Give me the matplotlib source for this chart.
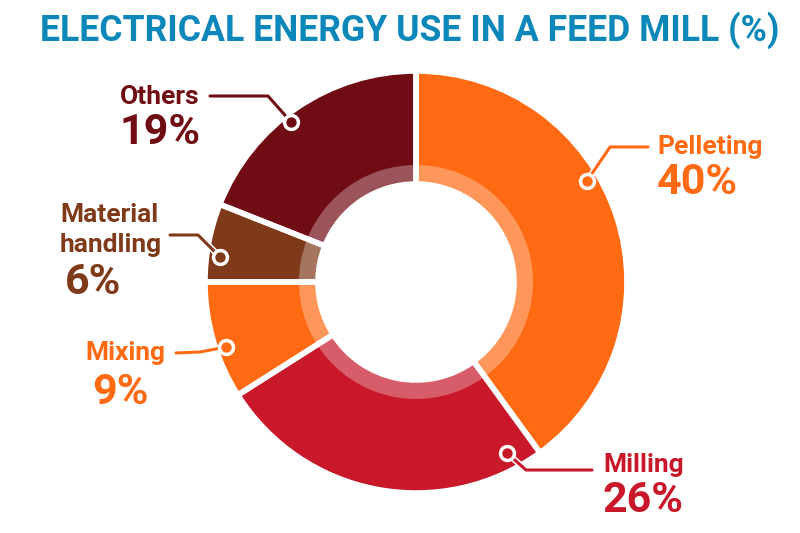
import matplotlib
matplotlib.use("Agg")
import matplotlib.pyplot as plt
import matplotlib.patheffects as pe
import numpy as np
from matplotlib.colors import to_rgb

categories = ["Pelleting", "Milling", "Mixing", "Material\nhandling", "Others"]
values = [40, 26, 9, 6, 19]
colors = ["#FF6A13", "#C8182A", "#FF6A13", "#7F3A1A", "#700C14"]
title = "ELECTRICAL ENERGY USE IN A FEED MILL (%)"

W, H = 800, 533
fig = plt.figure(figsize=(8, 5.33), dpi=100)
ax = fig.add_axes([0, 0, 1, 1])

def Y(y):
    return H - y

cx, cy = 416, Y(282)
R, r_hole, r_ring = 211, 98, 117

def lighten(c, a=0.3):
    rgb = np.array(to_rgb(c))
    return tuple(rgb * (1 - a) + a)

common = dict(startangle=90, counterclock=False, center=(cx, cy), frame=True)
ax.pie(values, colors=colors, radius=R, wedgeprops=dict(width=R - r_hole, linewidth=0), **common)
ax.pie(values, colors=[lighten(c) for c in colors], radius=r_ring,
       wedgeprops=dict(width=r_ring - r_hole, linewidth=0), **common)
ax.pie(values, colors=["none"] * len(values), radius=R,
       wedgeprops=dict(width=R - r_hole, edgecolor="white", linewidth=4), **common)
ax.set_xlim(0, W)
ax.set_ylim(0, H)
ax.set_aspect("equal")
ax.axis("off")

t = fig.text(0.5125, Y(30) / H, title, ha="center", va="center", fontsize=27,
             fontweight="bold", color="#0B87B9", family="Roboto")
fig.canvas.draw()
bb = t.get_window_extent()
t.set_fontsize(27 * 742 / bb.width)

layouts = [
    dict(x=657, ny=147, py=183, ha="left", pts=[(648, 147), (610, 147), (587, 181)], c="#FF6A13"),
    dict(x=603, ny=465, py=500, ha="left", pts=[(592, 470), (526, 470), (507, 453)], c="#C8182A"),
    dict(x=85, ny=353, py=392, ha="left", pts=[(176, 353), (200, 352), (226, 347)], c="#FF6A13", px=92),
    dict(x=60, ny=230, py=283, ha="left", pts=[(170, 235), (198, 235), (220, 257)], c="#7F3A1A", px=65),
    dict(x=160, ny=97, py=133, ha="center", pts=[(210, 96), (268, 96), (291, 122)], c="#700C14"),
]

for cat, v, L in zip(categories, values, layouts):
    xs = [p[0] for p in L["pts"]]
    ys = [Y(p[1]) for p in L["pts"]]
    ax.plot(xs, ys, color=L["c"], lw=2.2, solid_capstyle="round",
            path_effects=[pe.Stroke(linewidth=4.5, foreground="white"), pe.Normal()], zorder=5)
    ax.plot(xs[-1], ys[-1], "o", ms=10, mfc=L["c"], mec="white", mew=2.5, zorder=6)
    ax.text(L["x"], Y(L["ny"]), cat, ha=L["ha"], va="center", fontsize=19,
            fontweight="bold", color=L["c"], family="Roboto", linespacing=1.3)
    ax.text(L.get("px", L["x"]), Y(L["py"]), f"{v}%", ha=L["ha"], va="center", fontsize=31,
            fontweight="bold", color=L["c"], family="Roboto")

fig.savefig("out.png", dpi=100, facecolor="white")
